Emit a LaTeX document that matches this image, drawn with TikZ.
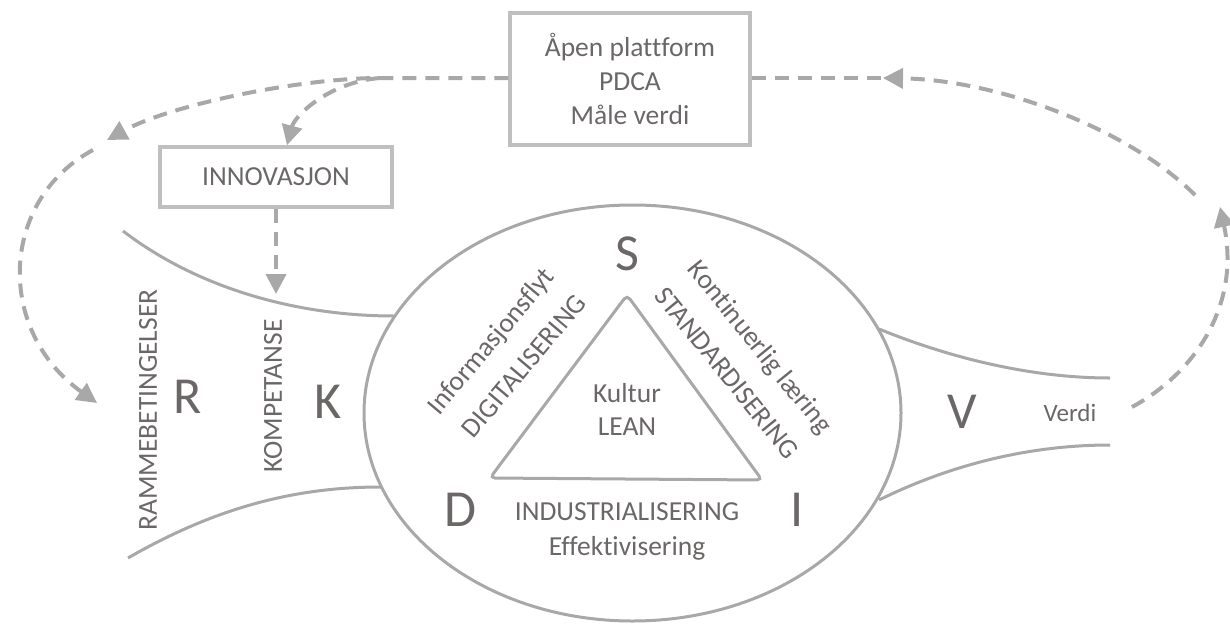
\documentclass[tikz,border=0pt]{standalone}
\usepackage{fontspec}
\setmainfont{Carlito}[Ligatures={NoCommon}]
\usetikzlibrary{shapes.geometric,arrows.meta}
\definecolor{linegray}{HTML}{A8A8A8}
\definecolor{boxgray}{HTML}{BFBFBF}
\definecolor{txtgray}{HTML}{6B6767}
\begin{document}
\begin{tikzpicture}[x=1pt,y=-1pt,
  every node/.style={text=txtgray},
  label27/.style={font=\fontsize{27.5}{34}\selectfont, inner sep=0pt, align=center},
  bigletter/.style={font=\fontsize{52}{60}\selectfont, inner sep=0pt},
  framebox/.style={draw=boxgray, line width=3.5pt, label27},
  flowline/.style={draw=linegray, line width=3pt},
  dashflow/.style={draw=linegray, line width=4pt, dash pattern=on 14pt off 9pt},
  tip/.style={-{Triangle[length=20pt,width=20pt]}}]
\useasboundingbox (0,0) rectangle (1230,626);

% central ellipse and LEAN triangle
\node[ellipse, draw=linegray, line width=3pt, minimum width=537pt, minimum height=416pt, inner sep=0pt] (ell) at (632.5,413) {};
\coordinate (tS) at (627,295);
\coordinate (tI) at (762,480);
\coordinate (tD) at (490,478);
\draw[flowline, rounded corners=5pt] (tS) -- (tI) -- (tD) -- cycle;

% funnel curves
\draw[flowline] (123,231) .. controls (200,290) and (300,316) .. (394,316);
\draw[flowline] (128,558) .. controls (220,505) and (300,487) .. (381,487);
\draw[flowline] (879,329) .. controls (960,362) and (1040,378) .. (1110,378);
\draw[flowline] (879,500) .. controls (960,460) and (1040,445) .. (1110,445);

% boxes
\node[framebox, minimum width=240pt, minimum height=132pt] (plat) at (630,79)
  {Åpen plattform\\PDCA\\Måle verdi};
\node[framebox, minimum width=232pt, minimum height=60pt] (innov) at (276,177) {INNOVASJON};

% letters
\node[bigletter] (S) at (627,254) {S};
\node[bigletter] (D) at (460,510) {D};
\node[bigletter] (I) at (797,510) {I};
\node[bigletter] (R) at (188,397) {R};
\node[bigletter] (K) at (328,402) {K};
\node[bigletter] (V) at (962,412) {V};

% texts
\node[label27] (kultur) at (627,393) {Kultur};
\node[label27] (lean) at (627,427) {LEAN};
\node[label27] (indu) at (627,512) {INDUSTRIALISERING};
\node[label27] (eff) at (627,548) {Effektivisering};
\node[label27, rotate=50] (info) at (492,342) {Informasjonsflyt};
\node[label27, rotate=50] (digi) at (524,366) {DIGITALISERING};
\node[label27, rotate=-51] (stand) at (727,373) {STANDARDISERING};
\node[label27, rotate=-51] (kont) at (759,348) {Kontinuerlig læring};
\node[label27, rotate=90] (ramme) at (148,410) {RAMMEBETINGELSER};
\node[label27, rotate=90] (komp) at (273,396) {KOMPETANSE};
\node[label27, font=\fontsize{25}{30}\selectfont] (verdi) at (1070,413) {Verdi};

% feedback arrows
\coordinate (split) at (380,78);
\coordinate (leftA) at (107,140);
\coordinate (leftB) at (93,150);
\coordinate (rEnd) at (97,403);
\coordinate (kIn) at (276,294);
\coordinate (topR) at (883,78);
\coordinate (arcR) at (1195,195);
\coordinate (verdiOut) at (1132,407);
\coordinate (upR) at (1220,207);

\draw[dashflow, tip] (plat.west |- split) -- (split) .. controls (300,78) and (170,105) .. (leftA);
\draw[dashflow, tip] (split) .. controls (330,82) and (295,115) .. (innov.north -| 287,0);
\draw[dashflow, tip] (innov.south) -- (kIn);
\draw[dashflow, tip] (leftB) .. controls (0,200) and (-5,330) .. (rEnd);
\draw[dashflow] (plat.east |- topR) -- (topR);
\draw[dashflow, tip] (arcR) .. controls (1130,130) and (1000,80) .. (topR);
\draw[dashflow, tip] (verdiOut) .. controls (1200,370) and (1240,300) .. (upR);
\end{tikzpicture}
\end{document}
